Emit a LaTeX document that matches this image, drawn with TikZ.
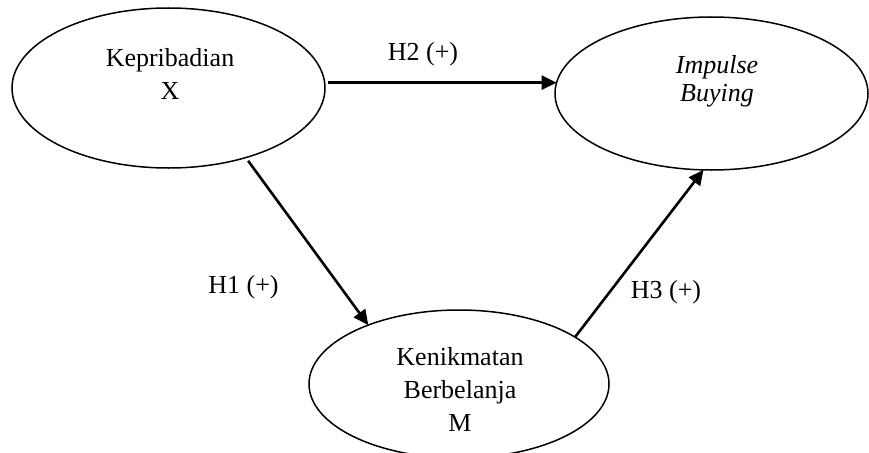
\documentclass[tikz,border=0pt]{standalone}
\usepackage{fontspec}
\setmainfont{Liberation Serif}
\usetikzlibrary{shapes.geometric,arrows.meta}
\begin{document}
\begin{tikzpicture}[x=1pt,y=-1pt,
  oval/.style={ellipse,draw,line width=1.5pt,inner sep=0pt,outer sep=0pt},
  ovaltext/.style={align=center,inner sep=0pt,font=\fontsize{26}{33}\selectfont},
  link/.style={line width=2.6pt,-{Triangle[length=15pt,width=14pt]}},
  lbl/.style={anchor=base,inner sep=0pt,font=\fontsize{26}{31}\selectfont}]
\useasboundingbox (0,0) rectangle (869,452);

% constructs
\node[oval,minimum width=313pt,minimum height=160pt] (k) at (168.5,88) {};
\node[oval,minimum width=313pt,minimum height=153pt] (ib) at (711.5,93.5) {};
\node[oval,minimum width=300pt,minimum height=148pt] (kb) at (459,384) {};

% construct names
\node[ovaltext] (kt) at (170,73.5) {Kepribadian\\X};
\node[ovaltext,font=\fontsize{26}{28.5}\selectfont\itshape] (ibt) at (717,81.4) {Impulse\\Buying};
\node[ovaltext] (kbt) at (460,389) {Kenikmatan\\Berbelanja\\M};

% hypothesised paths
\draw[link,shorten <=3pt] (k.east |- ib.176) -- (ib.176);
\draw[link,shorten <=4pt] (k.-42.6) -- (kb.147.9);
\draw[link] (kb.22) -- (ib.-96);

% path labels
\node[lbl] (h2) at (423,60) {H2 (+)};
\node[lbl] (h1) at (243.5,293) {H1 (+)};
\node[lbl] (h3) at (666,298) {H3 (+)};
\end{tikzpicture}
\end{document}
